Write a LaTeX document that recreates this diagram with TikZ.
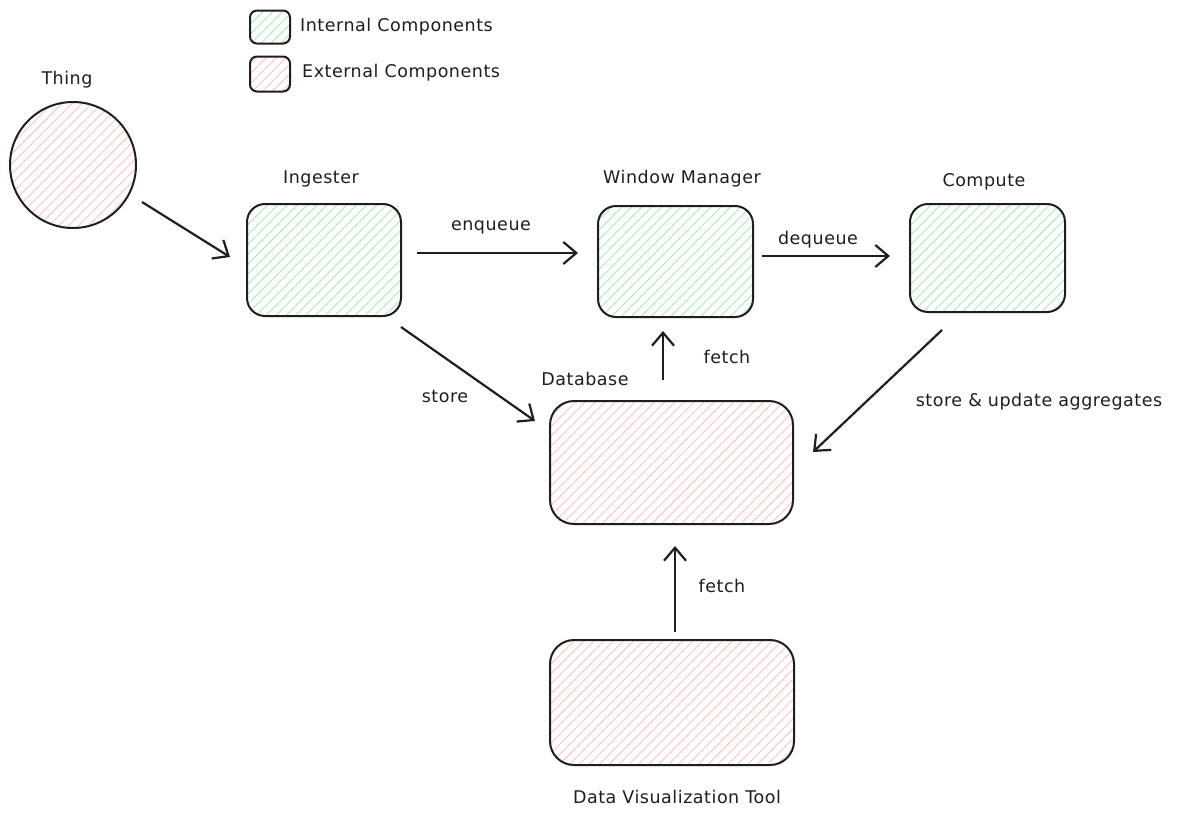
\documentclass[tikz,border=0pt]{standalone}
\usepackage{fontspec}
\setmainfont[LetterSpace=3]{DejaVu Sans}
\usetikzlibrary{arrows.meta,patterns.meta}
\definecolor{ink}{HTML}{1E1E1E}
\definecolor{greenhatch}{HTML}{A8EBB2}
\definecolor{redhatch}{HTML}{FFC2C2}
\tikzset{
  comp/.style={draw=ink, line width=2pt, rounded corners=18pt, inner sep=0pt},
  internal/.style={comp, pattern={Lines[angle=45,distance=7pt,line width=0.9pt]}, pattern color=greenhatch},
  external/.style={comp, pattern={Lines[angle=45,distance=7pt,line width=0.9pt]}, pattern color=redhatch},
  lbl/.style={font=\fontsize{17.5}{20}\selectfont, text=ink, inner sep=1pt},
  conn/.style={draw=ink, line width=2.2pt, -{Straight Barb[length=13pt,width=22pt,line width=2.2pt]}},
}
\begin{document}
\begin{tikzpicture}[x=1pt,y=-1pt]
\useasboundingbox (0,0) rectangle (1186,819);
% legend
\node[internal, rounded corners=7pt, minimum width=40pt, minimum height=33pt] (legInt) at (270,27) {};
\node[lbl, anchor=west] (legIntT) at (299,27) {Internal Components};
\node[external, rounded corners=7pt, minimum width=40pt, minimum height=35pt] (legExt) at (270,74) {};
\node[lbl, anchor=west] (legExtT) at (301,73) {External Components};
% thing
\node[lbl] (thingL) at (67,80) {Thing};
\node[draw=ink, line width=2pt, circle, minimum size=126pt, inner sep=0pt,
  pattern={Lines[angle=45,distance=7pt,line width=0.9pt]}, pattern color=redhatch] (thing) at (73,165) {};
% components
\node[lbl] (ingL) at (321,179) {Ingester};
\node[internal, minimum width=154pt, minimum height=112pt] (ing) at (324,260) {};
\node[lbl] (wmL) at (682,179) {Window Manager};
\node[internal, minimum width=155pt, minimum height=111pt] (wm) at (675.5,261.5) {};
\node[lbl] (compL) at (984,182) {Compute};
\node[internal, minimum width=155pt, minimum height=108pt] (comp) at (987.5,258) {};
\node[lbl] (dbL) at (585,379) {Database};
\node[external, rounded corners=24pt, minimum width=243pt, minimum height=123pt] (db) at (671.5,462.5) {};
\node[external, rounded corners=24pt, minimum width=244pt, minimum height=125pt] (dv) at (672,702.5) {};
\node[lbl] (dvL) at (677,797) {Data Visualization Tool};
% connector endpoints
\coordinate (t1) at (142,202); \coordinate (t2) at (230,257);
\coordinate (e1) at (417,253); \coordinate (e2) at (578,253);
\coordinate (d1) at (762,256); \coordinate (d2) at (890,256);
\coordinate (s1) at (401,327); \coordinate (s2) at (535,421);
\coordinate (f1) at (663,380); \coordinate (f2) at (663,331);
\coordinate (c1) at (942,330); \coordinate (c2) at (813,452);
\coordinate (v1) at (675,632); \coordinate (v2) at (675,546);
\draw[conn] (t1) -- (t2);
\draw[conn] (e1) -- (e2);
\draw[conn] (d1) -- (d2);
\draw[conn] (s1) -- (s2);
\draw[conn] (f1) -- (f2);
\draw[conn] (c1) -- (c2);
\draw[conn] (v1) -- (v2);
% connector labels
\node[lbl] (enqL) at (491,227) {enqueue};
\node[lbl] (deqL) at (818,240) {dequeue};
\node[lbl] (storeL) at (445,396) {store};
\node[lbl] (fetch1L) at (727,357) {fetch};
\node[lbl] (aggL) at (1039,402) {store \& update aggregates};
\node[lbl] (fetch2L) at (722,586) {fetch};
\end{tikzpicture}
\end{document}
